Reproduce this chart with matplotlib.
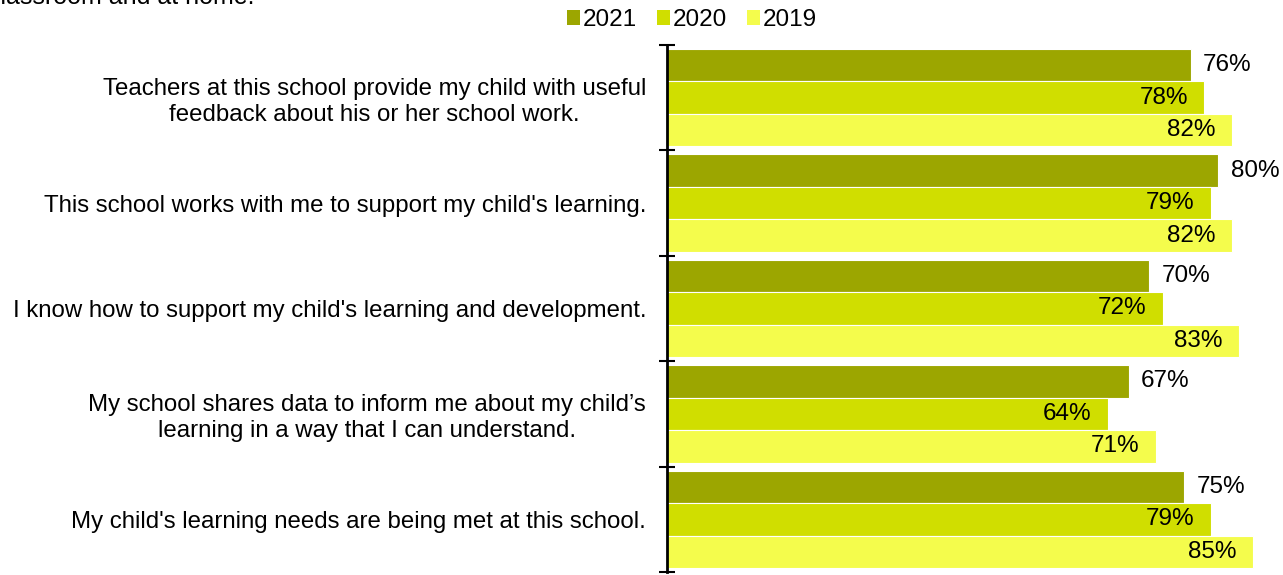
import numpy as np
import matplotlib.pyplot as plt
from matplotlib.patches import Patch

plt.rcParams['font.family'] = ['Liberation Sans', 'DejaVu Sans']

# survey items, top to bottom
items = [
    "Teachers at this school provide my child with useful\nfeedback about his or her school work.",
    "This school works with me to support my child's learning.",
    "I know how to support my child's learning and development.",
    "My school shares data to inform me about my child\u2019s\nlearning in a way that I can understand.",
    "My child's learning needs are being met at this school.",
]
years = ['2021', '2020', '2019']
pct_2021 = [76, 80, 70, 67, 75]
pct_2020 = [78, 79, 72, 64, 79]
pct_2019 = [82, 82, 83, 71, 85]

colors = ['#9ca600', '#d0de00', '#f4fc4c']
series = [pct_2021, pct_2020, pct_2019]

fig = plt.figure(figsize=(12.83, 5.75), dpi=100)
ax = fig.add_axes([667/1283, 3/575, 1 - 667/1283, (575 - 45 - 3)/575])

y = np.arange(len(items))
h = 0.308
for k, (vals, c) in enumerate(zip(series, colors)):
    pos = y + (k - 1) * h
    bars = ax.barh(pos, vals, height=h, color=c, edgecolor='white', linewidth=0.8)
    for b, v in zip(bars, vals):
        yc = b.get_y() + b.get_height() / 2
        if k == 0:
            ax.annotate(f'{v}%', (v, yc), xytext=(9, 0), textcoords='offset points',
                        ha='left', va='center', fontsize=17.5)
        else:
            ax.annotate(f'{v}%', (v, yc), xytext=(-12, 0), textcoords='offset points',
                        ha='right', va='center', fontsize=17.5)

ax.set_xlim(0, 89.4)
ax.set_ylim(len(items) - 0.5, -0.5)

# category boundaries carry the tick marks, labels sit at group centres
ax.set_yticks(np.arange(len(items) + 1) - 0.5)
ax.set_yticklabels([])
ax.tick_params(axis='y', which='major', direction='inout', length=12, width=1.5)
ax.set_yticks(y, minor=True)
ax.set_yticklabels(items, minor=True, fontsize=17.3)
ax.tick_params(axis='y', which='minor', length=0, pad=15)
for t in ax.get_yticklabels(minor=True):
    t.set_multialignment('center')

ax.set_xticks([])
for s in ['top', 'right', 'bottom']:
    ax.spines[s].set_visible(False)
ax.spines['left'].set_linewidth(2)

handles = [Patch(facecolor=c, label=yr) for c, yr in zip(colors, years)]
fig.legend(handles=handles, loc='center', bbox_to_anchor=(692/1283, 1 - 20/575),
           ncol=3, frameon=False, fontsize=17.5, handlelength=0.55, handleheight=0.55,
           handletextpad=0.12, columnspacing=0.8)

fig.text(-12/1283, 1 - 4/575, 'classroom and at home.', fontsize=18,
         ha='left', va='baseline')

fig.savefig('out.png', dpi=100)
